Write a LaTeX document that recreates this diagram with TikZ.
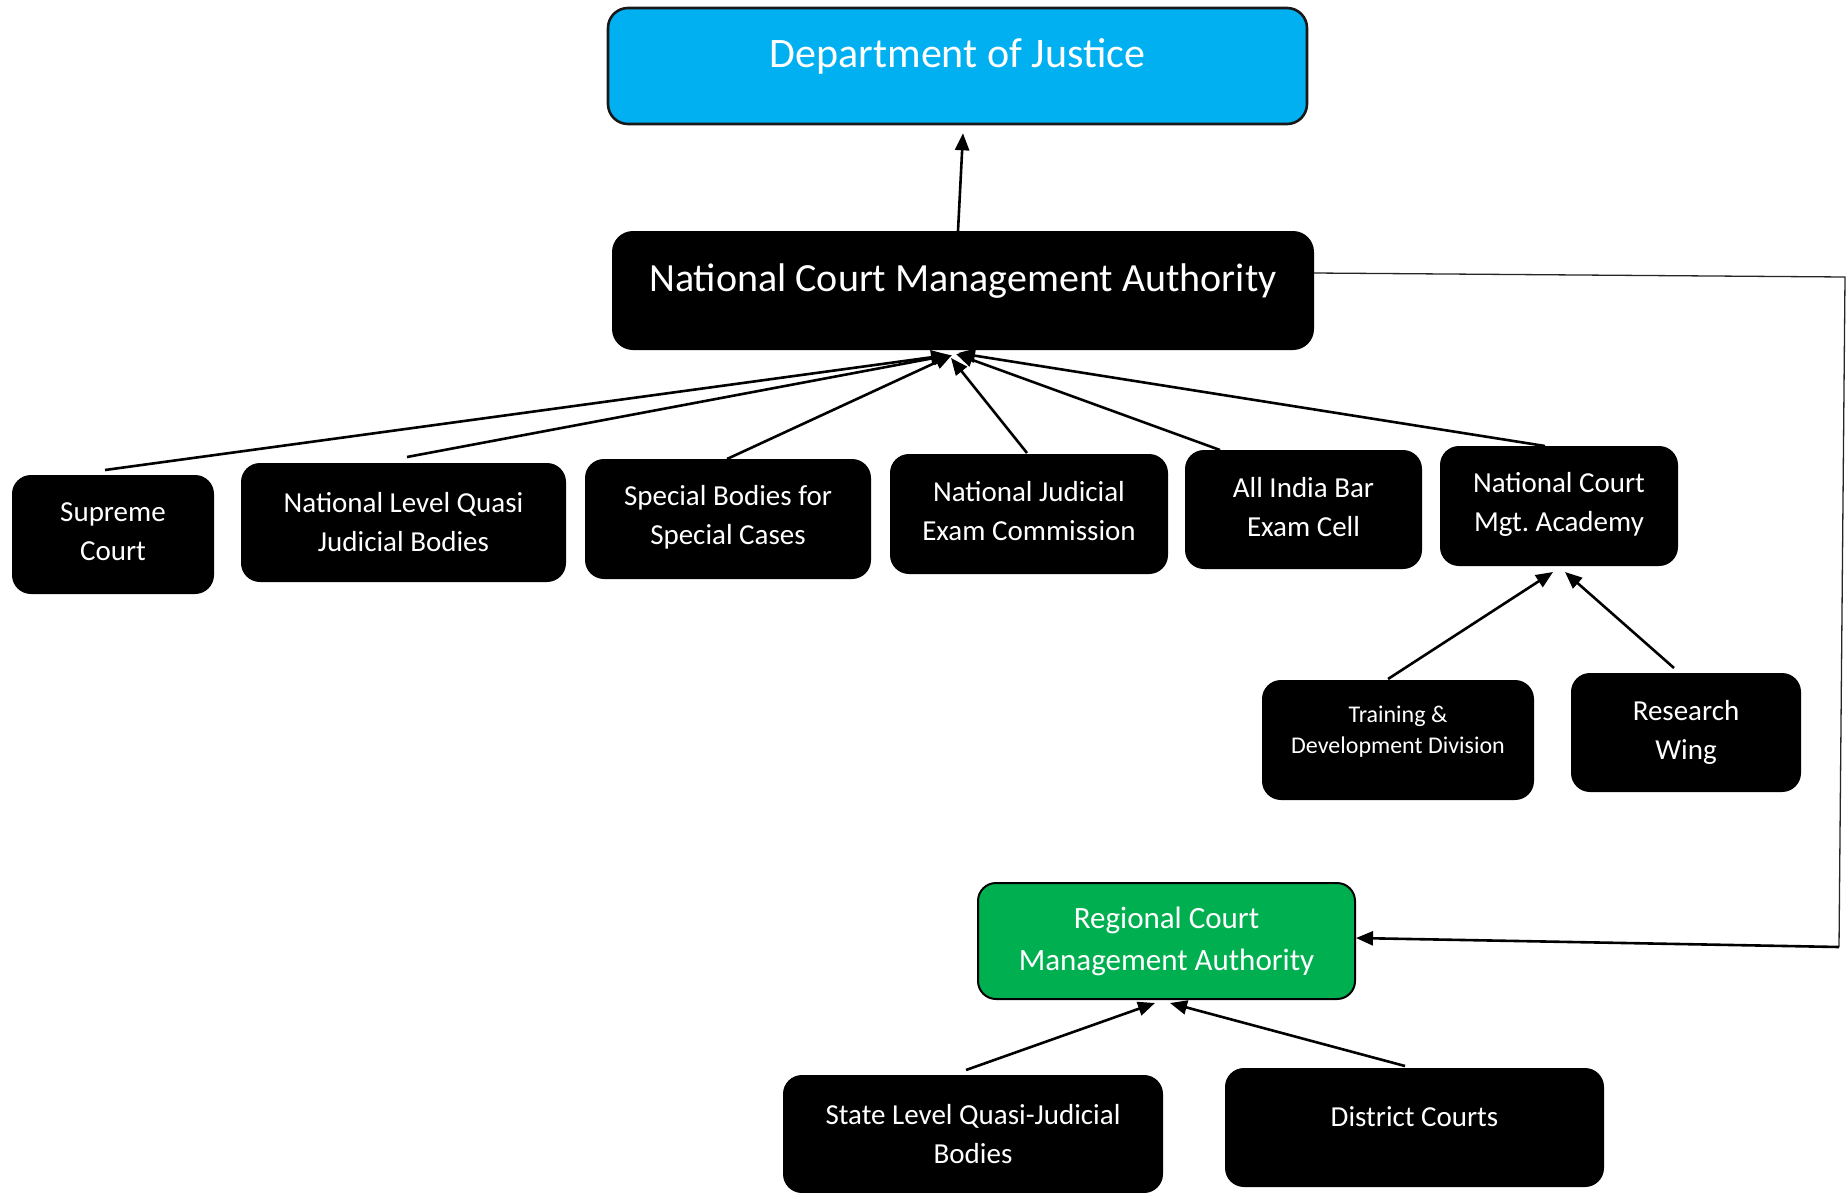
\documentclass[tikz,border=0pt]{standalone}
\usepackage{fontspec}
\setmainfont{Carlito}
\usetikzlibrary{arrows.meta}
\definecolor{dojblue}{HTML}{00B0F0}
\definecolor{rcgreen}{HTML}{00B050}
\frenchspacing
\begin{document}
\begin{tikzpicture}[x=1pt,y=-1pt,
  orgbox/.style={draw=black, line width=2pt, rounded corners=18pt, text=white,
    align=center, inner sep=0pt},
  darkbox/.style={orgbox, fill=black},
  link/.style={line width=2.6pt, -{Triangle[length=17pt,width=14pt]}},
  feed/.style={line width=1.3pt, draw=black!85},
  f24/.style={font=\fontsize{24}{31}\selectfont},
  f29/.style={font=\fontsize{29}{39}\selectfont},
  f31/.style={font=\fontsize{31}{42}\selectfont},
]
\useasboundingbox (0,0) rectangle (1848,1192);

% top level
\node[orgbox, fill=dojblue, draw=black!90, line width=2.6pt, rounded corners=20pt,
  minimum width=699pt, minimum height=116pt, text height=30pt, text depth=27pt,
  font=\fontsize{42}{50}\selectfont] (doj) at (957.5,66) {Department of Justice};

\node[darkbox, rounded corners=20pt, minimum width=700pt, minimum height=117pt,
  text height=30pt, text depth=28pt, font=\fontsize{40}{48}\selectfont]
  (ncma) at (963,290.5) {National Court Management Authority};

% bodies reporting to the national authority
\node[darkbox, f29, minimum width=200pt, minimum height=117pt] (sc) at (113,534.5) {Supreme\\Court\rule[-6pt]{0pt}{6pt}};
\node[darkbox, f29, minimum width=323pt, minimum height=117pt] (nlq) at (403.5,522.5) {National Level Quasi\\Judicial Bodies};
\node[darkbox, f29, minimum width=284pt, minimum height=118pt] (sbs) at (728,519) {Special Bodies for\\Special Cases\rule[-9pt]{0pt}{9pt}};
\node[darkbox, f29, minimum width=276pt, minimum height=118pt] (njec) at (1029,514) {National Judicial\\Exam Commission\rule[-6pt]{0pt}{6pt}};
\node[darkbox, f29, minimum width=235pt, minimum height=117pt] (aib) at (1303.5,509.5) {All India Bar\\Exam Cell\rule[-6pt]{0pt}{6pt}};
\node[darkbox, f29, minimum width=236pt, minimum height=118pt] (nca) at (1559,506) {National Court\\Mgt. Academy\rule[-9pt]{0pt}{9pt}};

% academy wings
\node[darkbox, f24, minimum width=270pt, minimum height=118pt] (tdd) at (1398,740)
  {Training \&\\Development Division\rule[-20pt]{0pt}{20pt}};
\node[darkbox, f29, minimum width=228pt, minimum height=117pt] (rw) at (1686,732.5) {Research\\Wing};

% regional level
\node[orgbox, fill=rcgreen, f31, minimum width=377pt, minimum height=116pt] (rcma) at (1166.5,941)
  {Regional Court\\Management Authority};
\node[darkbox, f29, minimum width=378pt, minimum height=116pt] (slq) at (973,1134) {State Level Quasi-Judicial\\Bodies};
\node[darkbox, f29, minimum width=377pt, minimum height=117pt, text height=18pt, text depth=21pt]
  (dc) at (1414.5,1127.5) {District Courts};

% connectors
\draw[link] ([xshift=-5pt]ncma.north) -- ([xshift=5.5pt,yshift=-8pt]doj.south);

\draw[link] ([xshift=-8pt,yshift=5pt]sc.north) -- ([xshift=-15pt,yshift=-5pt]ncma.south);
\draw[link] ([xshift=3.5pt,yshift=6pt]nlq.north) -- ([xshift=-13pt,yshift=-5pt]ncma.south);
\draw[link] ([xshift=-1pt]sbs.north) -- ([xshift=-11pt,yshift=-5pt]ncma.south);
\draw[link] ([xshift=-2pt,yshift=1pt]njec.north) -- ([xshift=-12pt,yshift=-8pt]ncma.south);
\draw[link] ([xshift=-83.5pt]aib.north) -- ([xshift=-7pt,yshift=-4pt]ncma.south);
\draw[link] ([xshift=-14pt]nca.north) -- ([xshift=-5pt,yshift=-3pt]ncma.south);

\draw[link] ([xshift=-10pt,yshift=1pt]tdd.north) -- ([xshift=-6pt,yshift=-6pt]nca.south);
\draw[link] ([xshift=-12pt,yshift=5pt]rw.north) -- ([xshift=6pt,yshift=-6pt]nca.south);

\draw[link] ([xshift=-7pt,yshift=5pt]slq.north) -- ([xshift=-11.5pt,yshift=-3pt]rcma.south);
\draw[link] ([xshift=-9.5pt,yshift=2pt]dc.north) -- ([xshift=3.5pt,yshift=-3pt]rcma.south);

\coordinate (rtop) at (1845,277);
\coordinate (rbot) at (1839,947);
\draw[feed] ([yshift=17.5pt]ncma.east) -- (rtop) -- (rbot);
\draw[link] (rbot) -- ([yshift=3pt]rcma.east);
\end{tikzpicture}
\end{document}
